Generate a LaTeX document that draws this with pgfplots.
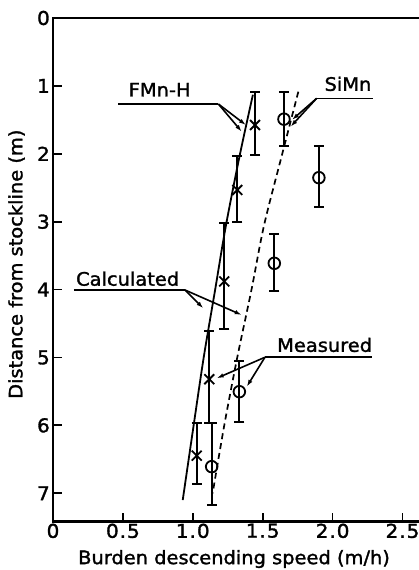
\documentclass[border=0pt]{standalone}
\usepackage{fontspec}
\setmainfont{DejaVu Sans}[FakeStretch=1.05, FakeBold=1.6]
\usepackage{pgfplots}
\pgfplotsset{compat=1.18}
\usetikzlibrary{arrows.meta}
\begin{document}
\begin{tikzpicture}[font=\fontsize{18.5}{21}\selectfont]
\useasboundingbox (-53pt,-48.5pt) rectangle (366pt,521.5pt);
\begin{axis}[
  at={(0,0)}, anchor=south west,
  scale only axis, width=372pt, height=503.5pt,
  xmin=0, xmax=2.661, ymin=0, ymax=7.416, y dir=reverse,
  xtick={0,0.5,1,1.5,2,2.5},
  xticklabels={0,0\kern1pt.\kern1pt5,1\kern1pt.\kern1pt0,1\kern1pt.\kern1pt5,2\kern1pt.\kern1pt0,2\kern1pt.\kern1pt5},
  ytick={0,1,2,3,4,5,6,7}, yticklabels={0,1,2,3,4,5,6,7},
  xtick pos=bottom, ytick pos=left,
  tick align=inside, major tick length=9pt,
  tick style={line width=1.8pt, black},
  axis line style={line width=2.2pt},
  tick label style={font=\fontsize{19}{21}\selectfont},
  xticklabel style={inner sep=2pt},
  yticklabel style={inner sep=3pt},
  /pgf/number format/assume math mode=true,
  clip=false,
]
% calculated curves
\addplot[black, line width=1.8pt, smooth] coordinates {
  (1.43,1.13) (1.338,2.0) (1.2375,3.05) (1.16,4.0) (1.078,5.0) (1.006,6.0) (0.928,7.10)};
\addplot[black, line width=1.7pt, smooth, dash pattern=on 6pt off 4pt] coordinates {
  (1.755,1.085) (1.64,2.0) (1.51,3.05) (1.42,4.0) (1.318,5.0) (1.225,6.0) (1.142,7.0)};
% FMn-H measured
\addplot[black, only marks, mark=x, mark size=7pt, mark options={line width=1.8pt},
  error bars/.cd, y dir=both, y explicit,
  error bar style={line width=2pt},
  error mark options={line width=2pt, mark size=5pt, rotate=90}] coordinates {
  (1.445,1.576) += (0,0.442) -= (0,0.482)
  (1.318,2.533) += (0,0.467) -= (0,0.505)
  (1.225,3.88)  += (0,0.705) -= (0,0.86)
  (1.118,5.32)  += (0,0.64)  -= (0,0.715)
  (1.028,6.446) += (0,0.414) -= (0,0.476)};
% SiMn measured
\addplot[black, only marks, mark=o, mark size=5.8pt, mark options={line width=1.8pt, fill=white},
  error bars/.cd, y dir=both, y explicit,
  error bar style={line width=2pt},
  error mark options={line width=2pt, mark size=5pt, rotate=90}] coordinates {
  (1.652,1.49)  += (0,0.39)  -= (0,0.396)
  (1.902,2.352) += (0,0.438) -= (0,0.462)
  (1.583,3.613) += (0,0.403) -= (0,0.427)
  (1.333,5.504) += (0,0.441) -= (0,0.454)
  (1.135,6.608) += (0,0.572) -= (0,0.638)};
% annotations
\begin{scope}[line width=1.6pt, >={Latex[length=7pt,width=4.5pt]}, every node/.style={yshift=2pt}]
\node at (axis cs:0.763,1.085) {FMn-H};
\draw (axis cs:0.467,1.267) -- (axis cs:1.183,1.267);
\draw[->] (axis cs:1.183,1.267) -- (axis cs:1.38,1.576);
\draw[->] (axis cs:1.183,1.267) -- (axis cs:1.35,1.674);
\node at (axis cs:2.11,1.0) {SiMn};
\draw (axis cs:1.886,1.183) -- (axis cs:2.291,1.183);
\draw[->] (axis cs:1.886,1.183) -- (axis cs:1.71,1.50);
\draw[->] (axis cs:1.886,1.183) -- (axis cs:1.70,1.60);
\node at (axis cs:0.534,3.87) {Calculated};
\draw (axis cs:0.150,4.006) -- (axis cs:0.944,4.006);
\draw[->] (axis cs:0.944,4.006) -- (axis cs:1.075,4.275);
\draw[->] (axis cs:0.944,4.006) -- (axis cs:1.35,4.374);
\node at (axis cs:1.943,4.845) {Measured};
\draw (axis cs:1.516,4.997) -- (axis cs:2.282,4.997);
\draw[->] (axis cs:1.516,4.997) -- (axis cs:1.171,5.306);
\draw[->] (axis cs:1.516,4.997) -- (axis cs:1.386,5.43);
\end{scope}
\node[rotate=90] at (axis description cs:-0.098,0.511) {Distance from stockline (m)};
\node at (axis cs:1.295,7.416) [yshift=-37.5pt] {Burden descending speed (m/h)};
\end{axis}
\end{tikzpicture}
\end{document}
